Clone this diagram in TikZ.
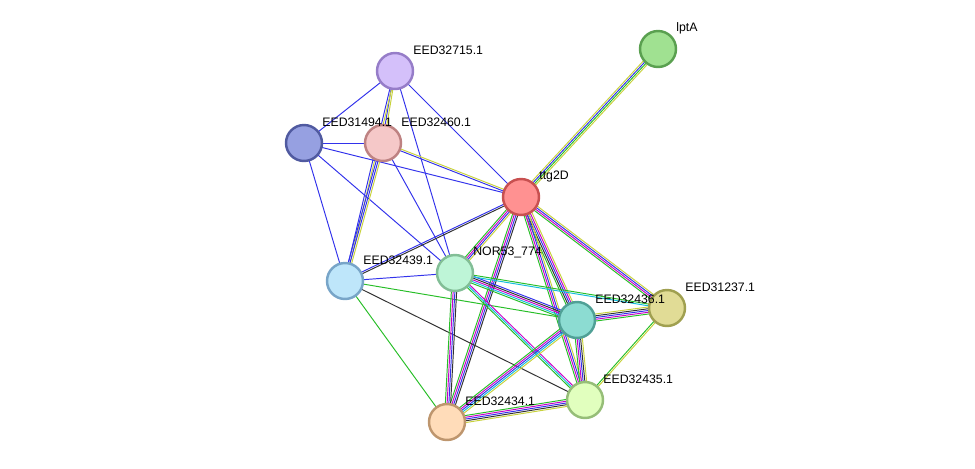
\documentclass[tikz,border=0pt]{standalone}
\usepackage{fontspec}
\setmainfont{Liberation Sans}
\usetikzlibrary{calc,positioning}
\definecolor{cgreen}{RGB}{40,190,40}
\definecolor{cblue}{RGB}{50,50,235}
\definecolor{cyell}{RGB}{200,210,60}
\definecolor{cmag}{RGB}{200,0,200}
\definecolor{ccyan}{RGB}{20,190,220}
\definecolor{cblack}{RGB}{50,50,50}
% Edge with several parallel coloured lines
\newcommand\strEdge[3]{%
  \xdef\ncount{0}%
  \foreach \c in {#3}{\xdef\ncount{\the\numexpr\ncount+1\relax}}%
  \foreach \c [count=\i] in {#3}{%
    \pgfmathsetmacro\off{(\i-(\ncount+1)/2)*0.035}%
    \draw[\c, line width=0.55pt] ($(#1)!\off cm!90:(#2)$) -- ($(#2)!\off cm!-90:(#1)$);}}
\begin{document}
\begin{tikzpicture}[x=0.02cm,y=-0.02cm]
  % Definir estilos
  \tikzstyle{prot}=[circle, line width=1.4pt, minimum size=0.72cm, inner sep=0pt]
  \tikzstyle{lbl}=[anchor=west, font=\fontsize{7}{8}\selectfont, inner sep=0pt]
  \useasboundingbox (0,0) rectangle (975,468);

  % Proteinas
  \coordinate (p715) at (395,71);
  \coordinate (lpt) at (658,49);
  \coordinate (p494) at (304,143);
  \coordinate (p460) at (383,143);
  \coordinate (ttg) at (521,197);
  \coordinate (p439) at (345,281);
  \coordinate (nor) at (455,273);
  \coordinate (p436) at (577,320);
  \coordinate (p237) at (667,308);
  \coordinate (p435) at (585,400);
  \coordinate (p434) at (447,422);

  % Conexiones
  \strEdge{p715}{p494}{cblue}
  \strEdge{p715}{p460}{cblue,cyell}
  \strEdge{p715}{ttg}{cblue}
  \strEdge{p715}{p439}{cblue,cyell}
  \strEdge{p715}{nor}{cblue}
  \strEdge{p494}{p460}{cblue}
  \strEdge{p494}{ttg}{cblue}
  \strEdge{p494}{p439}{cblue}
  \strEdge{p494}{nor}{cblue}
  \strEdge{p460}{ttg}{cblue,cyell}
  \strEdge{p460}{p439}{cblue,cblue,cyell}
  \strEdge{p460}{nor}{cblue}
  \strEdge{lpt}{ttg}{cyell,cblue,cgreen,cyell}
  \strEdge{ttg}{p439}{cblue,cblack}
  \strEdge{ttg}{nor}{cgreen,cmag,cblue,cyell}
  \strEdge{ttg}{p436}{cgreen,cblack,cblue,cmag,cyell}
  \strEdge{ttg}{p237}{cgreen,cmag,cblue,cyell}
  \strEdge{ttg}{p435}{cgreen,cmag,cblue,cyell}
  \strEdge{ttg}{p434}{cgreen,cmag,cblue,cblack}
  \strEdge{p439}{nor}{cblue}
  \strEdge{p439}{p436}{cgreen}
  \strEdge{p439}{p435}{cblack}
  \strEdge{p439}{p434}{cgreen}
  \strEdge{nor}{p436}{cgreen,ccyan,cmag,cblack,cblue}
  \strEdge{nor}{p237}{ccyan,cgreen}
  \strEdge{nor}{p435}{cgreen,ccyan,cmag}
  \strEdge{nor}{p434}{cgreen,cmag,cblue,cblack}
  \strEdge{p436}{p237}{cgreen,cmag,cblue,cblack,cyell}
  \strEdge{p436}{p435}{cgreen,cmag,cblue,cblack,cyell}
  \strEdge{p436}{p434}{cgreen,cmag,cblue,ccyan,cyell}
  \strEdge{p237}{p435}{cgreen,cyell}
  \strEdge{p435}{p434}{cgreen,cmag,cblue,cblack,cyell}

  % Nodos
  \node[prot, fill={rgb,255:red,212;green,192;blue,250}, draw={rgb,255:red,150;green,125;blue,200}] (n715) at (p715) {};
  \node[prot, fill={rgb,255:red,160;green,225;blue,145}, draw={rgb,255:red,90;green,160;blue,80}] (nlpt) at (lpt) {};
  \node[prot, fill={rgb,255:red,150;green,160;blue,225}, draw={rgb,255:red,80;green,90;blue,160}] (n494) at (p494) {};
  \node[prot, fill={rgb,255:red,245;green,200;blue,200}, draw={rgb,255:red,190;green,130;blue,130}] (n460) at (p460) {};
  \node[prot, fill={rgb,255:red,255;green,145;blue,145}, draw={rgb,255:red,200;green,80;blue,80}] (nttg) at (ttg) {};
  \node[prot, fill={rgb,255:red,190;green,230;blue,250}, draw={rgb,255:red,120;green,165;blue,200}] (n439) at (p439) {};
  \node[prot, fill={rgb,255:red,190;green,245;blue,215}, draw={rgb,255:red,130;green,190;blue,150}] (nnor) at (nor) {};
  \node[prot, fill={rgb,255:red,140;green,220;blue,210}, draw={rgb,255:red,80;green,160;blue,150}] (n436) at (p436) {};
  \node[prot, fill={rgb,255:red,225;green,220;blue,150}, draw={rgb,255:red,160;green,160;blue,80}] (n237) at (p237) {};
  \node[prot, fill={rgb,255:red,225;green,255;blue,190}, draw={rgb,255:red,150;green,190;blue,120}] (n435) at (p435) {};
  \node[prot, fill={rgb,255:red,255;green,220;blue,185}, draw={rgb,255:red,190;green,150;blue,110}] (n434) at (p434) {};

  % Etiquetas
  \foreach \n/\t in {715/EED32715.1, lpt/lptA, 494/EED31494.1, 460/EED32460.1, ttg/ttg2D,
                     439/EED32439.1, nor/NOR53\_774, 436/EED32436.1, 237/EED31237.1,
                     435/EED32435.1, 434/EED32434.1}
    \node[lbl] (l\n) at ($(n\n)+(18,-21)$) {\t};
\end{tikzpicture}
\end{document}
